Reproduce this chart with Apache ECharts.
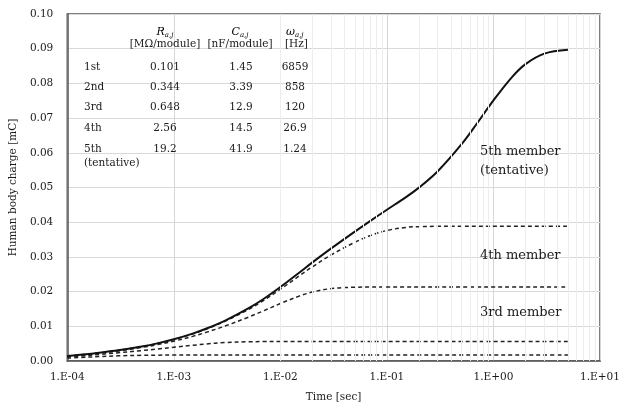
<!DOCTYPE html>
<html>
<head>
<meta charset="utf-8">
<script src="https://cdn.jsdelivr.net/npm/echarts@6/dist/echarts.min.js"></script>
<style>
html,body{margin:0;padding:0;background:#fff;}
#c{width:627px;height:408px;}
</style>
</head>
<body>
<div id="c"></div>
<script>
// ---- data ----
const times = [1e-4, 1.5e-4, 2e-4, 3e-4, 5e-4, 7e-4,
               1e-3, 1.5e-3, 2e-3, 3e-3, 5e-3, 7e-3,
               1e-2, 1.5e-2, 2e-2, 3e-2, 5e-2, 7e-2,
               0.1, 0.15, 0.2, 0.3, 0.5, 0.7,
               1, 1.5, 2, 3, 5];
const member1 = [0.00084, 0.00109, 0.00127, 0.00148, 0.00164, 0.00169,
                 0.0017, 0.0017, 0.0017, 0.0017, 0.0017, 0.0017,
                 0.0017, 0.0017, 0.0017, 0.0017, 0.0017, 0.0017,
                 0.0017, 0.0017, 0.0017, 0.0017, 0.0017, 0.0017,
                 0.0017, 0.0017, 0.0017, 0.0017, 0.0017];
const member2 = [0.00116, 0.00156, 0.00189, 0.00236, 0.0030, 0.00345,
                 0.00395, 0.00452, 0.0049, 0.0053, 0.00555, 0.00559,
                 0.0056, 0.0056, 0.0056, 0.0056, 0.0056, 0.0056,
                 0.0056, 0.0056, 0.0056, 0.0056, 0.0056, 0.0056,
                 0.0056, 0.0056, 0.0056, 0.0056, 0.0056];
const member3 = [0.00135, 0.00184, 0.00226, 0.00291, 0.00391, 0.00471,
                 0.00572, 0.0071, 0.00824, 0.01004, 0.01262, 0.01449,
                 0.01656, 0.01869, 0.01987, 0.02087, 0.02126, 0.0213,
                 0.0213, 0.0213, 0.0213, 0.0213, 0.0213, 0.0213,
                 0.0213, 0.0213, 0.0213, 0.0213, 0.0213];
const member4 = [0.0014, 0.00191, 0.00236, 0.00305, 0.00415, 0.00504,
                 0.00619, 0.00779, 0.00916, 0.0114, 0.01483, 0.0175,
                 0.02069, 0.02451, 0.02716, 0.03057, 0.03421, 0.03615,
                 0.03762, 0.03849, 0.03872, 0.0388, 0.0388, 0.0388,
                 0.0388, 0.0388, 0.0388, 0.0388, 0.0388];
const member5 = [0.00141, 0.00192, 0.00237, 0.00307, 0.00418, 0.00508,
                 0.00625, 0.00789, 0.00929, 0.01159, 0.01515, 0.01794,
                 0.02132, 0.02545, 0.02841, 0.03244, 0.03729, 0.0404,
                 0.04359, 0.04717, 0.04996, 0.05469, 0.06241, 0.06845,
                 0.07511, 0.0819, 0.08557, 0.08858, 0.0897];
const xTickValues = [1e-4, 1e-3, 1e-2, 1e-1, 1, 10];
const xTickLabels = ['1.E-04', '1.E-03', '1.E-02', '1.E-01', '1.E+00', '1.E+01'];
const minorX = [2e-4,3e-4,4e-4,5e-4,6e-4,7e-4,8e-4,9e-4, 2e-3,3e-3,4e-3,5e-3,6e-3,7e-3,8e-3,9e-3, 2e-2,3e-2,4e-2,5e-2,6e-2,7e-2,8e-2,9e-2, 0.2,0.3,0.4,0.5,0.6,0.7,0.8,0.9, 2,3,4,5,6,7,8,9];
const memberLabels = ['5th member', '(tentative)', '4th member', '3rd member'];
const tableRows = ['1st', '2nd', '3rd', '4th', '5th'];
const tableR = ['0.101', '0.344', '0.648', '2.56', '19.2'];
const tableC = ['1.45', '3.39', '12.9', '14.5', '41.9'];
const tableW = ['6859', '858', '120', '26.9', '1.24'];

const FONT = 'DejaVu Serif';
const INK = '#1a1a1a';
const pair = arr => times.map((t, i) => [t, arr[i]]);

const chart = echarts.init(document.getElementById('c'), null, {renderer: 'canvas'});

const graphics = [];
const txt = (x, y, text, align, size) => ({
  type: 'text', x: x, y: y, silent: true, z: 10,
  style: {text: text, fill: INK, font: size + 'px "' + FONT + '"', align: align, verticalAlign: 'middle'}
});
const richSub = {
  i: {fontFamily: FONT, fontStyle: 'italic', fontSize: 11, color: INK},
  s: {fontFamily: FONT, fontStyle: 'italic', fontSize: 7, color: INK, verticalAlign: 'bottom', padding: [6, 0, 0, 0]}
};
graphics.push({type: 'text', x: 165, y: 32, silent: true, z: 10, style: {text: '{i|R}{s|a,j}', rich: richSub, align: 'center', verticalAlign: 'middle'}});
graphics.push({type: 'text', x: 240, y: 32, silent: true, z: 10, style: {text: '{i|C}{s|a,j}', rich: richSub, align: 'center', verticalAlign: 'middle'}});
graphics.push({type: 'text', x: 286, y: 32, silent: true, z: 10, style: {text: '{i|ω}{s|a,j}', rich: richSub, align: 'left', verticalAlign: 'middle'}});
graphics.push(txt(165, 44, '[MΩ/module]', 'center', 10.5));
graphics.push(txt(240, 44, '[nF/module]', 'center', 10.5));
graphics.push(txt(285, 44, '[Hz]', 'left', 10.5));
const rowY = [67, 87, 107, 128, 149];
tableRows.forEach((r, i) => {
  graphics.push(txt(84, rowY[i], r, 'left', 10.5));
  graphics.push(txt(165, rowY[i], tableR[i], 'center', 10.5));
  graphics.push(txt(241, rowY[i], tableC[i], 'center', 10.5));
  graphics.push(txt(295, rowY[i], tableW[i], 'center', 10.5));
});
graphics.push(txt(84, 163, '(tentative)', 'left', 10.5));
graphics.push(txt(480, 152, memberLabels[0], 'left', 13));
graphics.push(txt(480, 171, memberLabels[1], 'left', 13));
graphics.push(txt(480, 256, memberLabels[2], 'left', 13));
graphics.push(txt(480, 313, memberLabels[3], 'left', 13));

const dashed = {color: '#222', width: 1.5, type: [4, 3]};
const mkSeries = (name, arr, ls, z) => ({
  name: name, type: 'line', data: pair(arr), smooth: 0.35, showSymbol: false, symbol: 'none',
  lineStyle: ls, z: z, silent: true, animation: false
});

chart.setOption({
  animation: false,
  backgroundColor: '#fff',
  grid: {left: 66, right: 27, top: 14, bottom: 46, show: true, borderColor: '#555', borderWidth: 1.5, backgroundColor: 'transparent'},
  xAxis: {
    type: 'log', logBase: 10, min: 1e-4, max: 10,
    name: 'Time [sec]', nameLocation: 'middle', nameGap: 31,
    nameTextStyle: {fontFamily: FONT, fontSize: 10.5, color: INK},
    axisLine: {show: true, lineStyle: {color: '#555', width: 1.5}},
    axisTick: {show: false},
    axisLabel: {fontFamily: FONT, fontSize: 10.5, color: INK, margin: 11,
      formatter: v => { const k = xTickValues.findIndex(t => Math.abs(Math.log10(t) - Math.log10(v)) < 1e-6); return k >= 0 ? xTickLabels[k] : ''; }},
    splitLine: {show: true, lineStyle: {color: '#d6d6d6', width: 1}}
  },
  yAxis: {
    type: 'value', min: 0, max: 0.1, interval: 0.01,
    name: 'Human body charge [mC]', nameLocation: 'middle', nameGap: 46,
    nameTextStyle: {fontFamily: FONT, fontSize: 10.5, color: INK},
    axisLine: {show: true, lineStyle: {color: '#555', width: 1.5}},
    axisTick: {show: false},
    axisLabel: {fontFamily: FONT, fontSize: 10.5, color: INK, margin: 14, formatter: v => v.toFixed(2)},
    splitLine: {show: true, lineStyle: {color: '#d9d9d9', width: 1}}
  },
  graphic: graphics,
  series: [
    {type: 'line', data: [], silent: true, z: 0,
      markLine: {silent: true, symbol: 'none', animation: false, label: {show: false},
        lineStyle: {color: '#ededed', width: 1, type: 'solid'},
        data: minorX.map(v => ({xAxis: v}))}},
    mkSeries('1st', member1, dashed, 3),
    mkSeries('2nd', member2, dashed, 3),
    mkSeries('3rd', member3, dashed, 3),
    mkSeries('4th', member4, dashed, 3),
    mkSeries('5th', member5, {color: '#111', width: 2, type: 'solid'}, 4)
  ]
});
</script>
</body>
</html>
